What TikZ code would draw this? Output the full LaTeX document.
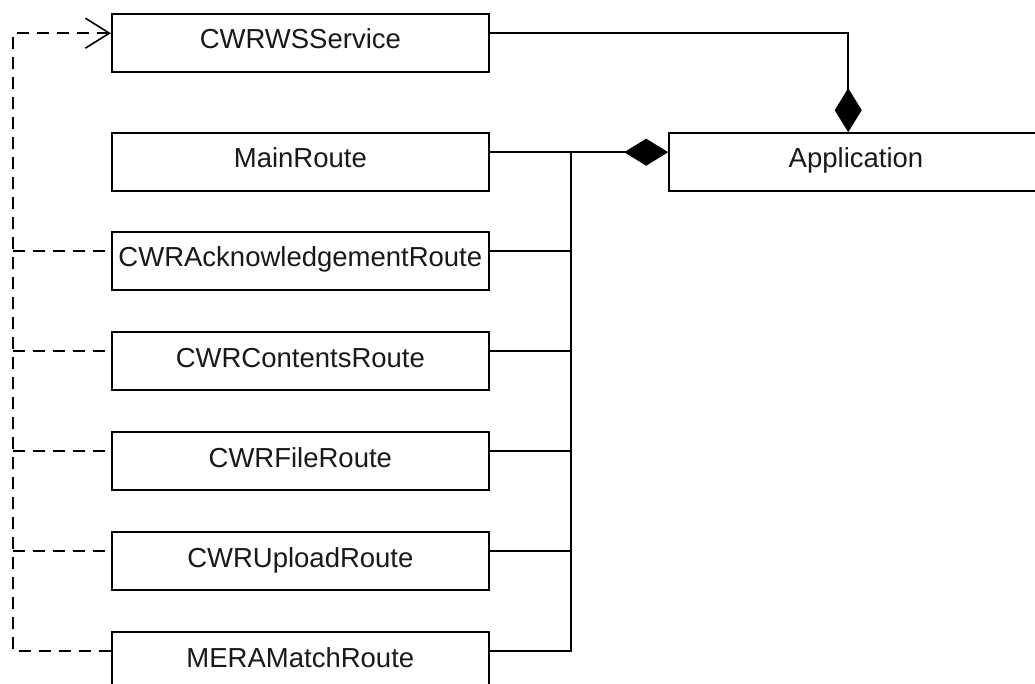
\documentclass[tikz,border=0pt]{standalone}
\usepackage{fontspec}
\setmainfont{Liberation Sans}
\usetikzlibrary{arrows.meta,calc}

\tikzset{
  x=1pt, y=-1pt,
  cls/.style={draw, rectangle, line width=1.6pt, inner sep=0pt,
    minimum width=377.3pt, minimum height=58pt,
    text height=20pt, text depth=8pt, text=black!90,
    font=\fontsize{27.5}{33}\selectfont},
  link/.style={line width=1.6pt},
  comp/.style={link, -{Diamond[length=44pt,width=27pt]}},
  dep/.style={link, dash pattern=on 12pt off 8pt},
  deparrow/.style={dep, -{Straight Barb[length=24pt,width=30pt]}}
}

\begin{document}
\begin{tikzpicture}
\useasboundingbox (0,0) rectangle (1035,684);
\clip (0,0) rectangle (1035,684);

% classes
\node[cls] (svc)  at (300.35, 43)  {CWRWSService};
\node[cls] (main) at (300.35, 162) {MainRoute};
\node[cls] (ack)  at (300.35, 261) {CWRAcknowledgementRoute};
\node[cls] (cont) at (300.35, 361) {CWRContentsRoute};
\node[cls] (file) at (300.35, 461) {CWRFileRoute};
\node[cls] (upl)  at (300.35, 561) {CWRUploadRoute};
\node[cls] (mera) at (300.35, 661) {MERAMatchRoute};
\node[cls, minimum width=374pt] (app) at (856, 162) {Application};

% attachment points, 20 px below each top edge
\foreach \n in {svc,main,ack,cont,file,upl,mera}{
  \coordinate (\n out) at ($(\n.north east)+(0,20)$);
  \coordinate (\n in)  at ($(\n.north west)+(0,20)$);
}
\coordinate (bus)      at (570.7, 0);
\coordinate (trunk)    at (12.7, 0);
\coordinate (appjoin)  at ($(app.north west)+(180,0)$);

% composition of the service into the application
\draw[comp] (svcout) -| (appjoin);

% composition of the routes into the application
\draw[comp] (mainout) -- (mainout -| app.west);
\draw[link] (mainout -| bus) -- (meraout -| bus) -- (meraout);
\foreach \n in {ack,cont,file,upl}{
  \draw[link] (\n out) -- (\n out -| bus);
}

% dependencies of the routes on the service
\draw[deparrow] (merain) -- (merain -| trunk) -- (svcin -| trunk) -- (svcin);
\foreach \n in {ack,cont,file,upl}{
  \draw[dep] (\n in -| trunk) -- (\n in);
}
\end{tikzpicture}
\end{document}
